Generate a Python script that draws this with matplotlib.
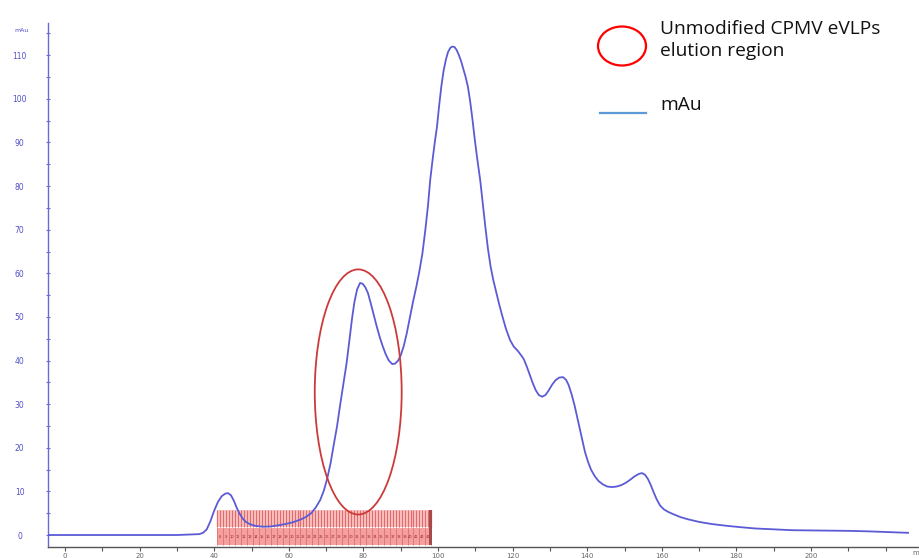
import numpy as np
import matplotlib
matplotlib.use("Agg")
import matplotlib.pyplot as plt
from matplotlib.patches import Ellipse, Rectangle
from matplotlib.ticker import MultipleLocator

# ---- data ----
volume_ml = [-4.5, 0, 10, 20, 30, 36, 37, 38, 39, 40, 41, 42, 43, 43.7, 44.5, 45.3, 46,
             46.8, 47.6, 48.5, 49.5, 51, 53, 55, 57, 59, 61, 63, 64.5, 66, 67.2, 68.4,
             69.4, 70.3, 71.2, 72, 72.9, 73.7, 74.6, 75.5, 76.3, 77, 77.6, 78.3, 79.1,
             79.8, 80.5, 81.2, 82, 82.8, 83.6, 84.4, 85.2, 86, 86.8, 87.7, 88.5, 89.3,
             90, 90.8, 91.6, 92.5, 93.3, 94.2, 95, 95.8, 96.6, 97.3, 97.9, 98.6, 99.2,
             99.7, 100.3, 100.9, 101.5, 102.1, 102.7, 103.3, 103.8, 104.4, 105, 105.6,
             106.2, 106.8, 107.4, 108, 108.6, 109.2, 109.8, 110.5, 111.3, 112, 112.7,
             113.4, 114.1, 114.8, 115.5, 116.3, 117.2, 118.2, 119.3, 120.3, 121.3,
             122.2, 123, 123.8, 124.6, 125.4, 126.2, 127, 127.9, 128.8, 129.7, 130.6,
             131.5, 132.5, 133.5, 134.3, 135, 135.8, 136.6, 137.3, 138, 138.7, 139.4,
             140.2, 141, 142, 143, 144.2, 145.4, 146.6, 147.8, 149, 150.2, 151.4,
             152.6, 153.8, 154.7, 155.5, 156.3, 157, 157.8, 158.6, 159.5, 160.5,
             161.7, 163, 165, 167, 170, 173.5, 177.5, 181, 185, 190, 195, 200, 205,
             210, 215, 220, 226]
absorbance_mau = [0, 0, 0, 0, 0, 0.2, 0.5, 1.3, 3.2, 5.6, 7.6, 8.9, 9.5, 9.6, 9.1, 7.8, 6.3,
                  4.9, 3.8, 3.0, 2.5, 2.1, 1.9, 1.95, 2.2, 2.5, 2.9, 3.5, 4.1, 5.0, 6.3, 8,
                  10.2, 13, 16.5, 20.5, 24.8, 29.5, 34.5, 39.5, 45, 50, 53.5, 56.3, 57.8,
                  57.6, 56.8, 55.5, 53, 50.3, 47.7, 45.3, 43.2, 41.4, 40, 39.2, 39.3, 40,
                  41.2, 43.3, 46.2, 50, 53.5, 57, 60.5, 64.5, 70, 75.5, 81.4, 86.5, 90.5,
                  93.5, 98.5, 103, 106.5, 109, 110.8, 111.7, 112, 111.9, 111.2, 110,
                  108.6, 106.8, 105, 102.8, 99.5, 95.5, 91, 86.3, 81.4, 76, 70.5,
                  65.5, 61.5, 58.5, 56, 53.2, 50.3, 47.3, 44.7, 43.2, 42.3,
                  41.3, 40.3, 38.6, 36.7, 34.8, 33.2, 32.1, 31.7, 32.1, 33.2, 34.5,
                  35.5, 36.1, 36.2, 35.6, 34.4, 32.3, 29.7, 27, 24.3, 21.5, 19,
                  16.8, 15, 13.5, 12.4, 11.6, 11.1, 11, 11.1, 11.4, 11.9, 12.6,
                  13.4, 14, 14.2, 13.8, 12.8, 11.5, 9.8, 8.2, 6.8, 5.9,
                  5.3, 4.8, 4.1, 3.6, 3.0, 2.5, 2.1, 1.8, 1.5, 1.3, 1.1, 1.05, 1.0,
                  0.95, 0.85, 0.7, 0.5]

fraction_first_ml = 40.8
fraction_last_ml = 98.2
fraction_count = 72

elution_center = (78.6, 32.8)      # ml, mAu
elution_size = (23.3, 56.2)        # width (ml), height (mAu)

x_ticks = [0, 20, 40, 60, 80, 100, 120, 140, 160, 180, 200]
y_ticks = [0, 10, 20, 30, 40, 50, 60, 70, 80, 90, 100, 110]

legend_region_label = "Unmodified CPMV eVLPs\nelution region"
legend_line_label = "mAu"

# ---- figure ----
fig = plt.figure(figsize=(9.2, 5.58), dpi=100)
ax = fig.add_axes([48 / 920, 1 - 547 / 558, 1 - 48 / 920, (547 - 23) / 558])
ax.set_xlim(-4.56, 229.2)
ax.set_ylim(-2.75, 117.4)

curve_color = "#5b5bd6"
ax.plot(volume_ml, absorbance_mau, color=curve_color, lw=1.3, zorder=3,
        solid_joinstyle="round")

# fraction marks
edges = np.linspace(fraction_first_ml, fraction_last_ml, fraction_count + 1)
ax.add_patch(Rectangle((fraction_first_ml, 1.8), fraction_last_ml - fraction_first_ml, 3.9,
                       facecolor="#fac8c8", edgecolor="none", zorder=1))
ax.add_patch(Rectangle((fraction_first_ml, -2.3), fraction_last_ml - fraction_first_ml, 3.9,
                       facecolor="#f4a0a0", edgecolor="none", zorder=1))
ax.vlines(edges, 1.8, 5.7, color="#e36a6a", lw=0.9, zorder=2)
ax.vlines(edges[::2], -2.3, 1.6, color="#e07070", lw=0.6, zorder=2)
ax.add_patch(Rectangle((fraction_last_ml - 0.6, -2.3), 0.9, 8.0,
                       facecolor="#a84a4a", edgecolor="none", zorder=2))
for i, (a, b) in enumerate(zip(edges[:-1:2], edges[2::2])):
    ax.text((a + b) / 2, -0.35, str(i + 8), fontsize=2.6, color="#a02828",
            ha="center", va="center", zorder=2)

# elution region ellipse
ax.add_patch(Ellipse(elution_center, elution_size[0], elution_size[1],
                     facecolor="none", edgecolor="#cc3a3a", lw=1.3, zorder=4))

# axes styling
for s in ("top", "right"):
    ax.spines[s].set_visible(False)
ax.spines["left"].set_color("#6a6ad2")
ax.spines["left"].set_linewidth(1.0)
ax.spines["bottom"].set_color("#555555")
ax.spines["bottom"].set_linewidth(1.0)

ax.set_yticks(y_ticks)
ax.yaxis.set_minor_locator(MultipleLocator(5))
ax.tick_params(axis="y", which="both", direction="inout", length=3, width=0.8,
               colors="#6a6ad2", labelsize=5.5, labelcolor="#5050c8", pad=19)
for lab in ax.get_yticklabels():
    lab.set_horizontalalignment("center")
ax.set_xticks(x_ticks)
ax.xaxis.set_minor_locator(MultipleLocator(10))
ax.tick_params(axis="x", which="both", direction="out", length=3, width=0.8,
               colors="#555555", labelsize=5, labelcolor="#666666", pad=1.5)

fig.text(22 / 920, 1 - 30 / 558, "mAu", fontsize=4.5, color="#5050c8",
         ha="center", va="center")
fig.text(917 / 920, 1 - 553 / 558, "ml", fontsize=5, color="#666666",
         ha="center", va="center")

# custom legend (figure coordinates, pixels)
lx = fig.add_axes([0, 0, 1, 1], facecolor="none")
lx.set_xlim(0, 920)
lx.set_ylim(558, 0)
lx.axis("off")
lx.add_patch(Ellipse((622, 46), 48, 39, facecolor="none", edgecolor="#ff0000", lw=1.6))
lx.text(660, 40, legend_region_label, fontsize=13.8, family="Open Sans",
        color="#111111", ha="left", va="center", linespacing=1.25)
lx.plot([600, 646], [113, 113], color="#5b9bd5", lw=1.6)
lx.text(660, 105, legend_line_label, fontsize=13.8, family="Open Sans",
        color="#111111", ha="left", va="center")

fig.savefig("out.png", dpi=100)
